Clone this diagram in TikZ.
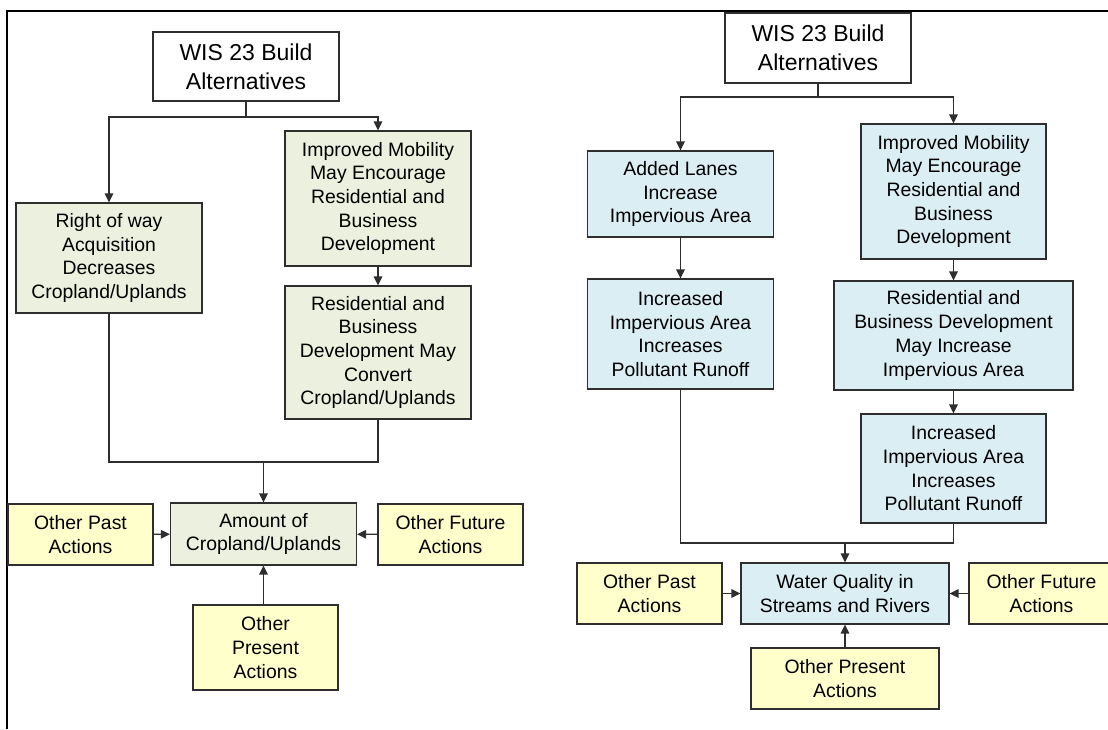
\documentclass[tikz,border=0pt]{standalone}
\usepackage{fontspec}
\setmainfont{Liberation Sans}
\usetikzlibrary{arrows.meta}

\definecolor{cropfill}{HTML}{EBF1DE}
\definecolor{waterfill}{HTML}{DBEEF4}
\definecolor{otherfill}{HTML}{FFFFCC}
\definecolor{boxline}{HTML}{2E2E2E}

\begin{document}
\begin{tikzpicture}[x=1pt, y=-1pt, >={Triangle[length=9pt,width=8.5pt]},
    box/.style={draw=boxline, line width=1.1pt, inner sep=0pt, align=center,
      font=\fontsize{19.4}{23.7}\selectfont},
    sized/.style 2 args={minimum width=#1pt, minimum height=#2pt},
    titlebox/.style={box, fill=white, font=\fontsize{23}{29}\selectfont},
    cropbox/.style={box, fill=cropfill},
    waterbox/.style={box, fill=waterfill},
    otherbox/.style={box, fill=otherfill},
    link/.style={draw=boxline, line width=1.3pt}]

    % Page size and frame
    \useasboundingbox (0,0) rectangle (1108,729);
    \draw[line width=2.5pt] (7,729) -- (7,11) -- (1108,11);

    % Left chart: cropland
    \node[titlebox, sized={186}{69}]  (wisL)  at (246,66.5)  {WIS 23 Build\\Alternatives};
    \node[cropbox, sized={186}{110}]  (rowL)  at (109,258)   {Right of way\\Acquisition\\Decreases\\Cropland/Uplands};
    \node[cropbox, sized={186}{135}]  (mobL)  at (378,198.5) {Improved Mobility\\May Encourage\\Residential and\\Business\\Development};
    \node[cropbox, sized={186}{133}]  (resL)  at (378,352.5) {Residential and\\Business\\Development May\\Convert\\Cropland/Uplands};
    \node[cropbox, sized={186}{62}]   (amtL)  at (263.5,534) {Amount of\\Cropland/Uplands};
    \node[otherbox, sized={145}{61}]  (pastL) at (80.5,534.5) {Other Past\\Actions};
    \node[otherbox, sized={145}{61}]  (futL)  at (450.5,534.5) {Other Future\\Actions};
    \node[otherbox, sized={145}{85}]  (presL) at (265.5,647.5) {Other\\Present\\Actions};

    \coordinate (splitL) at (246,117);
    \coordinate (joinL) at (263.5,462);
    \draw[link] (wisL.south) -- (splitL);
    \draw[link, ->] (splitL) -| (rowL.north);
    \draw[link, ->] (splitL) -| (mobL.north);
    \draw[link, ->] (mobL) -- (resL);
    \draw[link] (rowL.south) |- (joinL);
    \draw[link] (resL.south) |- (joinL);
    \draw[link, line width=1.8pt, ->] (joinL) -- (amtL.north);
    \draw[link, ->] (pastL) -- (amtL);
    \draw[link, ->] (futL) -- (amtL);
    \draw[link, ->] (presL.north -| amtL.south) -- (amtL.south);

    % Right chart: water quality
    \node[titlebox, sized={186}{70}]  (wisR)    at (818,48)    {WIS 23 Build\\Alternatives};
    \node[waterbox, sized={186}{86}]  (lanesR)  at (680.5,194) {Added Lanes\\Increase\\Impervious Area};
    \node[waterbox, sized={186}{110}] (runoffA) at (680.5,334) {Increased\\Impervious Area\\Increases\\Pollutant Runoff};
    \node[waterbox, sized={185}{135}] (mobR)    at (953.5,191.5) {Improved Mobility\\May Encourage\\Residential and\\Business\\Development};
    \node[waterbox, sized={239}{109}] (resR)    at (953.5,335.5) {Residential and\\Business Development\\May Increase\\Impervious Area};
    \node[waterbox, sized={185}{109}] (runoffB) at (953.5,468.5) {Increased\\Impervious Area\\Increases\\Pollutant Runoff};
    \node[waterbox, sized={208}{61}]  (wqR)     at (845,593.5) {Water Quality in\\Streams and Rivers};
    \node[otherbox, sized={145}{61}]  (pastR)   at (649.5,593.5) {Other Past\\Actions};
    \node[otherbox, sized={145}{61}]  (futR)    at (1041.5,593.5) {Other Future\\Actions};
    \node[otherbox, sized={188}{61}]  (presR)   at (845,678.5) {Other Present\\Actions};

    \coordinate (splitR) at (818,97);
    \coordinate (joinR) at (845,543);
    \draw[link] (wisR.south) -- (splitR);
    \draw[link, ->] (splitR) -| (lanesR.north);
    \draw[link, ->] (splitR) -| (mobR.north);
    \draw[link, ->] (lanesR) -- (runoffA);
    \draw[link, ->] (mobR) -- (resR);
    \draw[link, ->] (resR) -- (runoffB);
    \draw[link] (runoffA.south) |- (joinR);
    \draw[link] (runoffB.south) |- (joinR);
    \draw[link, ->] (joinR) -- (wqR.north);
    \draw[link, ->] (pastR) -- (wqR);
    \draw[link, ->] (futR) -- (wqR);
    \draw[link, ->] (presR) -- (wqR);

\end{tikzpicture}
\end{document}
